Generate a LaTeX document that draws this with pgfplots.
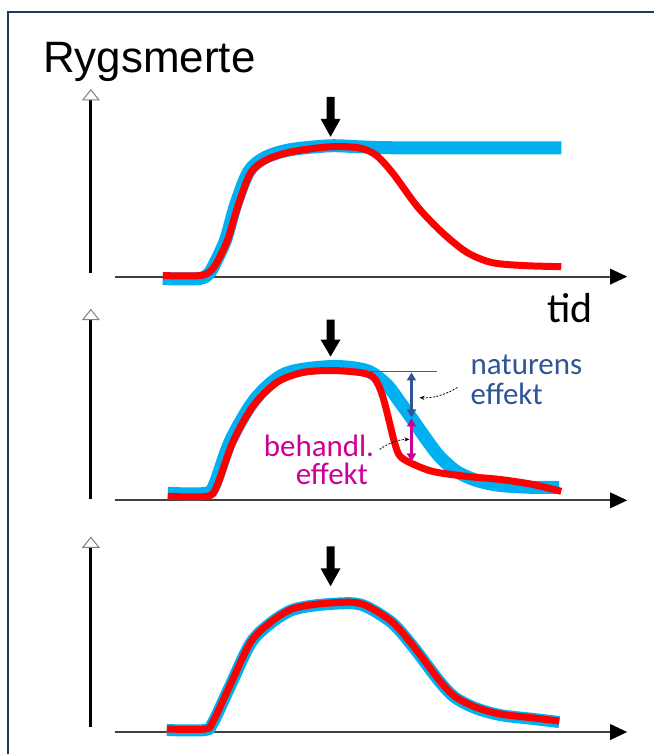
\documentclass[border=0pt]{standalone}
\usepackage{pgfplots}
\pgfplotsset{compat=1.18}
\usepackage{fontspec}
\setmainfont{Carlito}
\newfontfamily\arialf{Liberation Sans}
\usetikzlibrary{arrows.meta}
\definecolor{cblue}{HTML}{00B0F0}
\definecolor{cred}{HTML}{FF0000}
\definecolor{dblue}{HTML}{2F5597}
\definecolor{mag}{HTML}{CC0099}
\definecolor{frame}{HTML}{1F3864}
\definecolor{axgray}{HTML}{404040}
\begin{document}
\begin{tikzpicture}
\begin{axis}[
  scale only axis, width=655bp, height=755bp,
  xmin=0, xmax=655, ymin=0, ymax=755, y dir=reverse,
  hide axis, clip=false]
\path (axis cs:0,0) rectangle (axis cs:655,755);
% frame
\draw[frame, line width=2bp] (axis cs:8,755) -- (axis cs:8,12) -- (axis cs:655,12);
% axes: top panel
\draw[black, line width=3bp] (axis cs:91,273) -- (axis cs:91,99);
\filldraw[fill=white, draw=gray, line width=1bp] (axis cs:83,100) -- (axis cs:99,100) -- (axis cs:91,90) -- cycle;
\draw[axgray, line width=2bp] (axis cs:115,277) -- (axis cs:614,277);
\fill[black] (axis cs:611,269) -- (axis cs:611,285) -- (axis cs:628,277) -- cycle;
% axes: middle panel
\draw[black, line width=3bp] (axis cs:91,500) -- (axis cs:91,319);
\filldraw[fill=white, draw=gray, line width=1bp] (axis cs:83,320) -- (axis cs:99,320) -- (axis cs:91,310) -- cycle;
\draw[axgray, line width=2bp] (axis cs:115,501) -- (axis cs:614,501);
\fill[black] (axis cs:611,493) -- (axis cs:611,509) -- (axis cs:628,501) -- cycle;
% axes: bottom panel
\draw[black, line width=3bp] (axis cs:91,728) -- (axis cs:91,547);
\filldraw[fill=white, draw=gray, line width=1bp] (axis cs:83,548) -- (axis cs:99,548) -- (axis cs:91,538) -- cycle;
\draw[axgray, line width=2bp] (axis cs:115,733) -- (axis cs:614,733);
\fill[black] (axis cs:611,725) -- (axis cs:611,741) -- (axis cs:628,733) -- cycle;
% down arrows
\fill[black] (axis cs:327,97) -- (axis cs:335,97) -- (axis cs:335,119) -- (axis cs:341,119) -- (axis cs:331,137) -- (axis cs:321,119) -- (axis cs:327,119) -- cycle;
\fill[black] (axis cs:327,320) -- (axis cs:335,320) -- (axis cs:335,340) -- (axis cs:341,340) -- (axis cs:331,357) -- (axis cs:321,340) -- (axis cs:327,340) -- cycle;
\fill[black] (axis cs:327,547) -- (axis cs:335,547) -- (axis cs:335,569) -- (axis cs:341,569) -- (axis cs:331,587) -- (axis cs:321,569) -- (axis cs:327,569) -- cycle;
% texts
\node[anchor=base west, inner sep=0pt] at (axis cs:43,73) {\arialf\fontsize{44bp}{44bp}\selectfont Rygsmerte};
\node[anchor=base west, inner sep=0pt] at (axis cs:548,323) {\fontsize{42bp}{42bp}\selectfont tid};
% ---- top panel
\addplot[cblue, line width=13bp, smooth] coordinates {
(163,279)(199,279)(209,274)(215,264)(226,240)(236,205)(249,172)(265,158)(290,150)(330,146)(360,147)(400,148)(562,148)};
\addplot[cred, line width=7bp, smooth] coordinates {
(163,276)(200,276)(210,272)(217,263)(228,240)(238,207)(251,173)(267,160)(292,152)(330,147)(359,148)(376,155)(393,173)(418,207)(443,233)(468,253)(493,263)(526,266)(562,267)};
% ---- middle panel
\addplot[cblue, line width=13bp, smooth] coordinates {
(168,494)(206,494)(215,485)(231,441)(256,399)(286,374)(332,367)(367,371)(387,385)(400,402)(413,420)(427,440)(440,457)(457,472)(477,481)(500,486)(533,488)(560,488)};
\addplot[cred, line width=7bp, smooth] coordinates {
(168,497)(207,497)(217,487)(233,443)(253,407)(277,383)(303,373)(332,371)(360,373)(373,377)(380,388)(385,403)(390,423)(395,443)(400,456)(410,463)(433,472)(467,477)(500,480)(533,485)(562,492)};
\draw[dblue!80!cblue, line width=1bp] (axis cs:367,372) -- (axis cs:438,372);
\draw[dblue, line width=2.5bp, {Triangle[width=9bp,length=8bp]}-{Triangle[width=9bp,length=8bp]}] (axis cs:412,373) -- (axis cs:412,418);
\draw[mag, line width=2.5bp, {Triangle[width=9bp,length=8bp]}-{Triangle[width=9bp,length=8bp]}] (axis cs:412,419) -- (axis cs:412,462);
\node[anchor=base west, inner sep=0pt, text=dblue] at (axis cs:471,375) {\fontsize{31bp}{31bp}\selectfont naturens};
\node[anchor=base west, inner sep=0pt, text=dblue] at (axis cs:471,405) {\fontsize{31bp}{31bp}\selectfont effekt};
\node[anchor=base west, inner sep=0pt, text=mag] at (axis cs:264,457) {\fontsize{31bp}{31bp}\selectfont behandl.};
\node[anchor=base west, inner sep=0pt, text=mag] at (axis cs:296,485) {\fontsize{31bp}{31bp}\selectfont effekt};
\draw[black, line width=0.8bp, dash pattern=on 2bp off 1.5bp, -{Stealth[length=5bp,width=4bp]}] (axis cs:458,388) .. controls (axis cs:445,396) and (axis cs:432,399) .. (axis cs:420,398);
\draw[black, line width=0.8bp, dash pattern=on 2bp off 1.5bp, -{Stealth[length=5bp,width=4bp]}] (axis cs:380,450) .. controls (axis cs:390,443) and (axis cs:400,440) .. (axis cs:410,440);
% ---- bottom panel
\addplot[cblue, line width=12bp, smooth] coordinates {
(167,731)(205,731)(213,724)(230,688)(251,644)(271,624)(292,611)(317,606)(351,604)(368,608)(393,624)(414,648)(439,681)(455,698)(476,709)(501,716)(535,720)(560,723)};
\addplot[cred, line width=7bp, smooth] coordinates {
(167,730)(205,730)(213,723)(230,687)(251,643)(271,623)(292,610)(317,605)(351,603)(368,607)(393,623)(414,647)(439,680)(455,697)(476,708)(501,715)(535,719)(560,722)};
\end{axis}
\end{tikzpicture}
\end{document}
